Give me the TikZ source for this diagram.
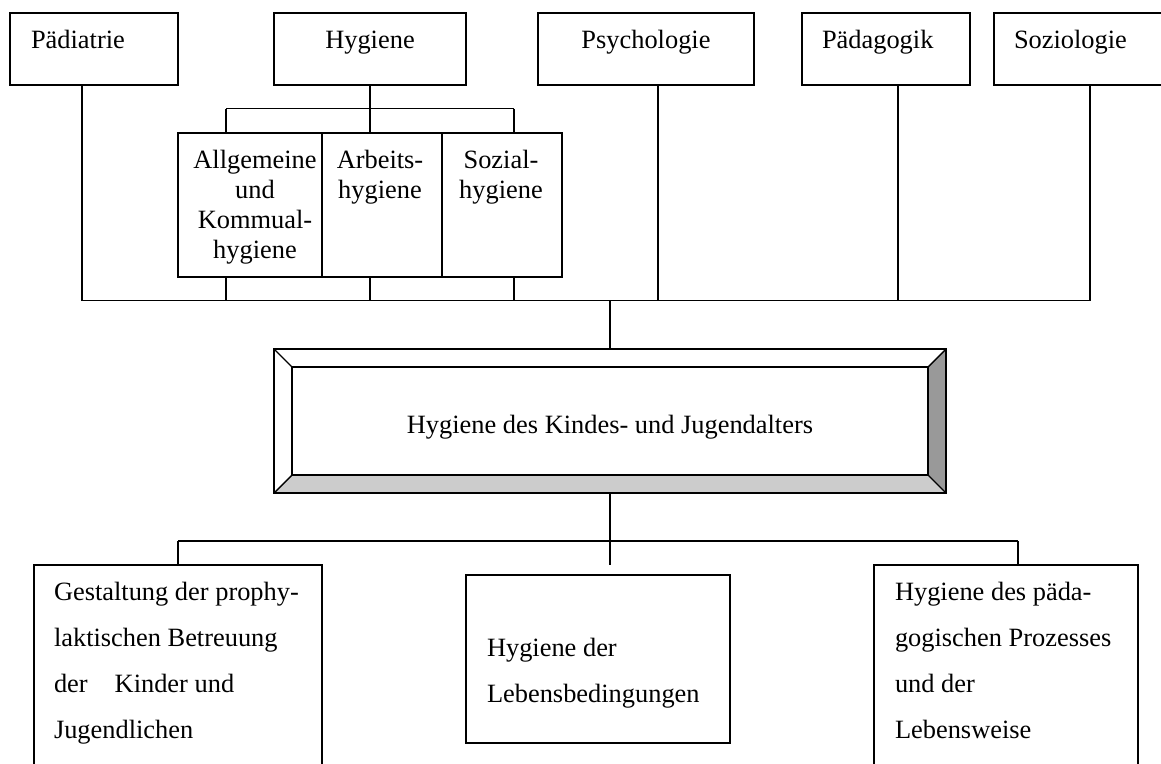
\documentclass[tikz,border=0pt]{standalone}
\usepackage{fontspec}
\setmainfont{Liberation Serif}
\usetikzlibrary{backgrounds}
\definecolor{bevB}{HTML}{CCCCCC}
\definecolor{bevR}{HTML}{999999}
\begin{document}
\begin{tikzpicture}[x=1pt,y=-1pt,
  box/.style={draw, line width=1.5pt, inner sep=0pt, outer sep=0pt, anchor=north west},
  conn/.style={line width=1.4pt},
  lbl/.style={inner sep=0pt, outer sep=0pt, font=\fontsize{26.4}{30.3}\selectfont},
  multi/.style={inner sep=0pt, outer sep=0pt, align=left, font=\fontsize{26.4}{46}\selectfont},
]
\useasboundingbox (0,0) rectangle (1161,763);
\clip (0,0) rectangle (1161,763);

% top row
\node[box, minimum width=168pt, minimum height=72pt] (pad) at (10,13) {};
\node[box, minimum width=192pt, minimum height=72pt] (hyg) at (274,13) {};
\node[box, minimum width=216pt, minimum height=72pt] (psy) at (538,13) {};
\node[box, minimum width=168pt, minimum height=72pt] (paed) at (802,13) {};
\node[box, minimum width=190pt, minimum height=72pt] (soz) at (994,13) {};

\node[lbl, anchor=base west] (padT) at (31,48) {Pädiatrie};
\node[lbl, anchor=base] (hygT) at (370,48) {Hygiene};
\node[lbl, anchor=base] (psyT) at (646,48) {Psychologie};
\node[lbl, anchor=base west] (paedT) at (822,48) {Pädagogik};
\node[lbl, anchor=base west] (sozT) at (1014,48) {Soziologie};

% hygiene sub boxes
\node[box, minimum width=144pt, minimum height=144pt] (allg) at (178,133) {};
\node[box, minimum width=120pt, minimum height=144pt] (arb) at (322,133) {};
\node[box, minimum width=120pt, minimum height=144pt] (sozh) at (442,133) {};
\node[lbl, align=center, anchor=base] (allgT) at (255,258.9) {Allgemeine\\und\\Kommual-\\hygiene};
\node[lbl, align=center, anchor=base] (arbT) at (380,198.3) {Arbeits-\\hygiene};
\node[lbl, align=center, anchor=base] (sozhT) at (501,198.3) {Sozial-\\hygiene};

\coordinate (hj1) at (226,108.7);
\coordinate (hj3) at (514,108.7);
\draw[conn] (hyg.south) -- (hyg.south |- arb.north);
\draw[conn] (hj1) -- (hj3);
\draw[conn] (hj1) -- (hj1 |- allg.north);
\draw[conn] (hj3) -- (hj3 |- sozh.north);

% main box
\node[box, minimum width=672pt, minimum height=144pt] (main) at (274,349) {};
\node[box, minimum width=636pt, minimum height=108pt] (mi) at (292,367) {};
\begin{scope}[on background layer]
\fill[bevB] (main.south west) -- (mi.south west) -- (mi.south east) -- (main.south east) -- cycle;
\fill[bevR] (main.north east) -- (mi.north east) -- (mi.south east) -- (main.south east) -- cycle;
\end{scope}
\draw[conn] (main.north west) -- (mi.north west);
\draw[conn] (main.north east) -- (mi.north east);
\draw[conn] (main.south west) -- (mi.south west);
\draw[conn] (main.south east) -- (mi.south east);
\node[lbl, anchor=base] (mainT) at (610,433) {Hygiene des Kindes- und Jugendalters};

% upper bus
\coordinate (b1) at (82,300.7);
\coordinate (b2) at (226,300.7);
\coordinate (b3) at (370,300.7);
\coordinate (b4) at (514,300.7);
\coordinate (b5) at (658,300.7);
\coordinate (b6) at (898,300.7);
\coordinate (b7) at (1090,300.7);
\coordinate (bm) at (610,300.7);
\draw[conn] (b1) -- (b7);
\draw[conn] (pad.south -| b1) -- (b1);
\draw[conn] (allg.south -| b2) -- (b2);
\draw[conn] (arb.south -| b3) -- (b3);
\draw[conn] (sozh.south -| b4) -- (b4);
\draw[conn] (psy.south -| b5) -- (b5);
\draw[conn] (paed.south -| b6) -- (b6);
\draw[conn] (soz.south -| b7) -- (b7);
\draw[conn] (bm) -- (main.north);

% lower boxes
\node[box, minimum width=288pt, minimum height=230pt] (lb) at (34,565) {};
\node[box, minimum width=264pt, minimum height=168pt] (cb) at (466,575) {};
\node[box, minimum width=264pt, minimum height=230pt] (rb) at (874,565) {};

\coordinate (lj1) at (178,541);
\coordinate (lj3) at (1018,541);
\coordinate (lstub) at (610,565);
\draw[conn] (main.south) -- (lstub);
\draw[conn] (lj1) -- (lj3);
\draw[conn] (lj1) -- (lj1 |- lb.north);
\draw[conn] (lj3) -- (lj3 |- rb.north);

\node[multi, anchor=base west] (lbT) at (54,738) {Gestaltung der prophy-\\laktischen Betreuung\\der\hspace{27pt}Kinder und\\Jugendlichen};
\node[multi, anchor=base west] (cbT) at (487,702) {Hygiene der\\Lebensbedingungen};
\node[multi, anchor=base west] (rbT) at (895,738) {Hygiene des päda-\\gogischen Prozesses\\und der\\Lebensweise};
\end{tikzpicture}
\end{document}
